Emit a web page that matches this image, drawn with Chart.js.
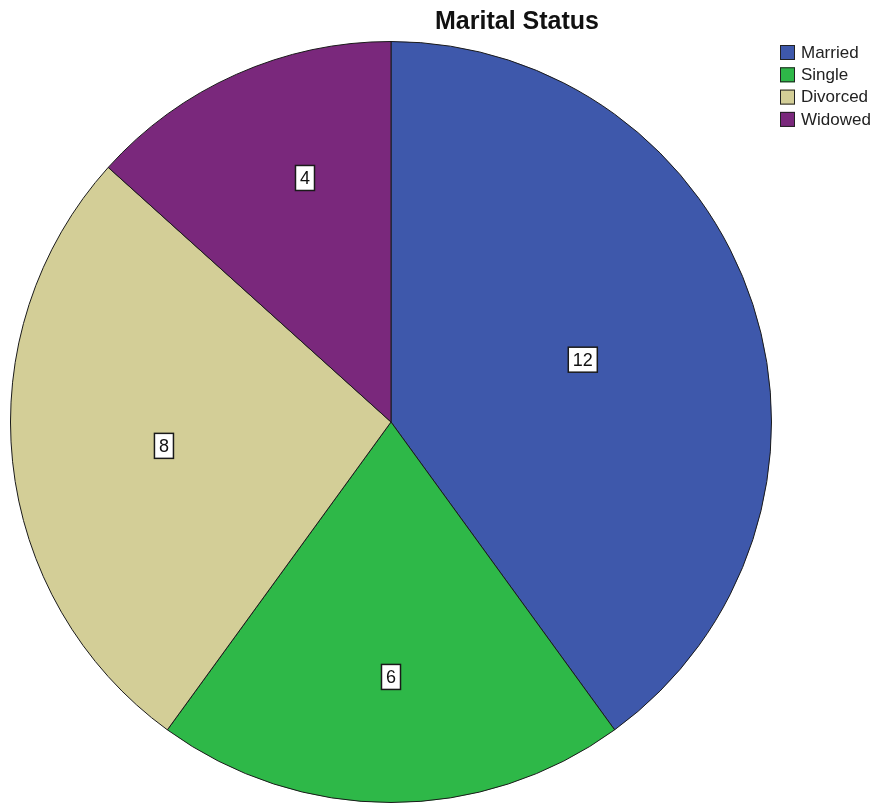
<!DOCTYPE html>
<html>
<head>
<meta charset="utf-8">
<title>Marital Status</title>
<script src="https://cdn.jsdelivr.net/npm/chart.js@4/dist/chart.umd.min.js"></script>
<style>
  html, body { margin: 0; padding: 0; background: #ffffff; }
  #wrap { width: 883px; height: 807px; }
</style>
</head>
<body>
<div id="wrap"><canvas id="pieChart" width="883" height="807"></canvas></div>
<script>
// chart data
const categories = ['Married', 'Single', 'Divorced', 'Widowed']
const counts = [12, 6, 8, 4]
const sliceColors = ['#3e58ab', '#2eb848', '#d3ce97', '#7a287c']

// where each value box sits: fraction of radius, and nudge off the mid angle (radians)
const labelDist = [0.53, 0.67, 0.6, 0.68]
const labelNudge = [0, 0, 0, 0.08]

// value boxes inside slices
const valueBoxes = {
    id: 'valueBoxes',
    afterDatasetsDraw(chart) {
        const ctx = chart.ctx
        const meta = chart.getDatasetMeta(0)
        ctx.save()
        ctx.font = '18px Arial, "Liberation Sans", sans-serif'
        ctx.textAlign = 'center'
        ctx.textBaseline = 'middle'
        meta.data.forEach((arc, i) => {
            const mid = (arc.startAngle + arc.endAngle) / 2 + labelNudge[i]
            const r = arc.outerRadius * labelDist[i]
            const x = arc.x + Math.cos(mid) * r
            const y = arc.y + Math.sin(mid) * r
            const txt = String(counts[i])
            const w = ctx.measureText(txt).width + 9
            const h = 25
            ctx.fillStyle = '#ffffff'
            ctx.fillRect(x - w / 2, y - h / 2, w, h)
            ctx.strokeStyle = '#1a1a1a'
            ctx.lineWidth = 1.5
            ctx.strokeRect(x - w / 2, y - h / 2, w, h)
            ctx.fillStyle = '#111111'
            ctx.fillText(txt, x, y + 1)
        })
        ctx.restore()
    }
}

// title and legend drawn in the SPSS position
const spssDecor = {
    id: 'spssDecor',
    afterDraw(chart) {
        const ctx = chart.ctx
        ctx.save()
        ctx.fillStyle = '#111111'
        ctx.font = 'bold 25px Arial, "Liberation Sans", sans-serif'
        ctx.textAlign = 'center'
        ctx.textBaseline = 'alphabetic'
        ctx.fillText('Marital Status', 517, 29)

        ctx.font = '17px Arial, "Liberation Sans", sans-serif'
        ctx.textAlign = 'left'
        ctx.textBaseline = 'middle'
        categories.forEach((name, i) => {
            const top = 45 + i * 22.3
            ctx.fillStyle = sliceColors[i]
            ctx.fillRect(780, top, 15, 15)
            ctx.strokeStyle = '#222222'
            ctx.lineWidth = 1
            ctx.strokeRect(780.5, top + 0.5, 14, 14)
            ctx.fillStyle = '#222222'
            ctx.fillText(name, 801, top + 8)
        })
        ctx.restore()
    }
}

document.addEventListener('DOMContentLoaded', function() {
    const pieCtx = document.getElementById('pieChart')
    new Chart(pieCtx, {
        type: 'pie',
        data: {
            labels: categories,
            datasets: [{
                data: counts,
                backgroundColor: sliceColors,
                borderColor: '#1a1a1a',
                borderWidth: 1
            }]
        },
        options: {
            responsive: false,
            animation: false,
            layout: {
                padding: { left: 10, right: 111, top: 41, bottom: 4 }
            },
            plugins: {
                legend: { display: false },
                title: { display: false },
                tooltip: { enabled: false }
            }
        },
        plugins: [valueBoxes, spssDecor]
    })
})
</script>
</body>
</html>
